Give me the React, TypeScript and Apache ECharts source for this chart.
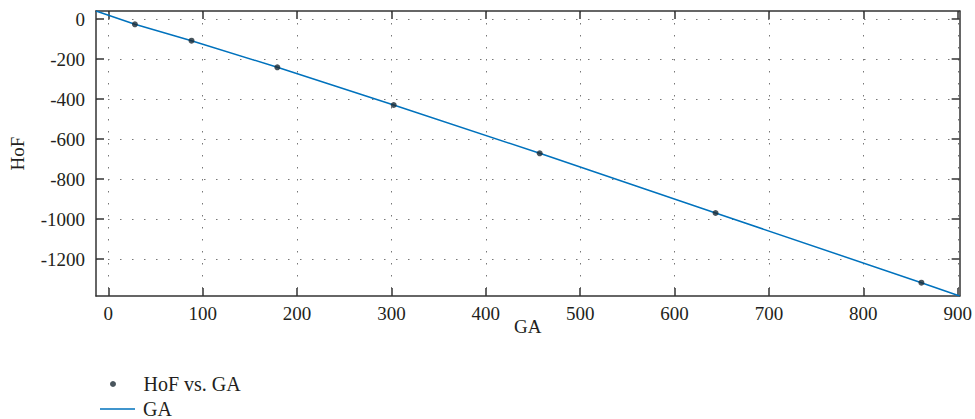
import React, { useEffect, useRef } from "react";
import * as echarts from "echarts";

const gaValues = [28.2, 88.2, 179.1, 302.4, 457.1, 643.4, 861.5];
const hofValues = [-26.5, -108.5, -241.5, -430, -671.5, -970, -1318.5];
const lineGa = [-13, 28.2, 88.2, 179.1, 302.4, 457.1, 643.4, 861.5, 902];
const lineHof = [40, -26.5, -108.5, -241.5, -430, -671.5, -970, -1318.5, -1385];
const xTicks = [0, 100, 200, 300, 400, 500, 600, 700, 800, 900];
const yTicks = [0, -200, -400, -600, -800, -1000, -1200];

const FONT = "'Liberation Serif', 'DejaVu Serif', serif";
const AXIS_COLOR = "#333";
const TEXT_COLOR = "#231f20";

export default function App() {
  const ref = useRef<HTMLDivElement>(null);
  useEffect(() => {
    if (!ref.current) return;
    const chart = echarts.init(ref.current, undefined, { renderer: "svg" });
    const grid = { left: 95, top: 11, right: 14, bottom: 123 };
    const gridLineStyle = { color: "#777", width: 1, type: [1.5, 10.5] as any };
    const baseX = {
      type: "value" as const,
      min: -13,
      max: 902,
      axisLine: { show: true, onZero: false, lineStyle: { color: AXIS_COLOR, width: 1.5 } },
      axisTick: { show: true, inside: true, length: 8, customValues: xTicks, lineStyle: { color: AXIS_COLOR, width: 1.5 } },
    };
    const baseY = {
      type: "value" as const,
      min: -1385,
      max: 40,
      axisLine: { show: true, onZero: false, lineStyle: { color: AXIS_COLOR, width: 1.5 } },
      axisTick: { show: true, inside: true, length: 8, customValues: yTicks, lineStyle: { color: AXIS_COLOR, width: 1.5 } },
    };
    const legendText = (pad: number) => ({
      fontFamily: FONT,
      fontSize: 20,
      color: TEXT_COLOR,
      rich: { t: { fontFamily: FONT, fontSize: 20, color: TEXT_COLOR, padding: [0, 0, 0, pad] } },
    });
    chart.setOption({
      animation: false,
      grid,
      legend: [
        {
          left: 105,
          top: 369,
          itemWidth: 35,
          itemHeight: 6,
          formatter: (n: string) => `{t|${n}}`,
          textStyle: legendText(8),
          data: [{ name: "HoF vs. GA", icon: "circle" }],
        },
        {
          left: 95,
          top: 394,
          itemWidth: 35,
          itemHeight: 1.5,
          formatter: (n: string) => `{t|${n}}`,
          textStyle: legendText(3),
          data: [{ name: "GA", icon: "rect", itemStyle: { color: "#0072bd" } }],
        },
      ],
      xAxis: [
        {
          ...baseX,
          position: "bottom",
          name: "GA",
          nameLocation: "middle",
          nameGap: 21,
          nameMoveOverlap: false,
          nameTextStyle: { fontFamily: FONT, fontSize: 19, color: TEXT_COLOR, verticalAlign: "top" },
          axisLabel: {
            show: true,
            customValues: xTicks,
            margin: 8,
            fontFamily: FONT,
            fontSize: 19,
            color: TEXT_COLOR,
            formatter: (v: number) => String(v),
          },
          splitLine: { show: true, lineStyle: gridLineStyle },
        },
        {
          ...baseX,
          position: "top",
          axisLabel: { show: false },
          splitLine: { show: false },
        },
      ],
      yAxis: [
        {
          ...baseY,
          position: "left",
          name: "HoF",
          nameLocation: "middle",
          nameGap: 69,
          nameMoveOverlap: false,
          nameTextStyle: { fontFamily: FONT, fontSize: 19, color: TEXT_COLOR },
          axisLabel: {
            show: true,
            customValues: yTicks,
            margin: 11,
            fontFamily: FONT,
            fontSize: 19,
            color: TEXT_COLOR,
            formatter: (v: number) => String(v),
          },
          splitLine: { show: true, lineStyle: gridLineStyle },
        },
        {
          ...baseY,
          position: "right",
          axisLabel: { show: false },
          splitLine: { show: false },
        },
      ],
      series: [
        {
          name: "GA",
          type: "line",
          data: lineGa.map((g, i) => [g, lineHof[i]]),
          showSymbol: false,
          symbol: "none",
          lineStyle: { color: "#0072bd", width: 1.5 },
          itemStyle: { color: "#0072bd" },
          z: 2,
        },
        {
          name: "HoF vs. GA",
          type: "scatter",
          data: gaValues.map((g, i) => [g, hofValues[i]]),
          symbolSize: 6,
          itemStyle: { color: "#1b2a35" },
          z: 3,
        },
      ],
    });
    return () => chart.dispose();
  }, []);
  return <div ref={ref} style={{ position: "absolute", left: 0, top: 0, width: 975, height: 419 }} />;
}
